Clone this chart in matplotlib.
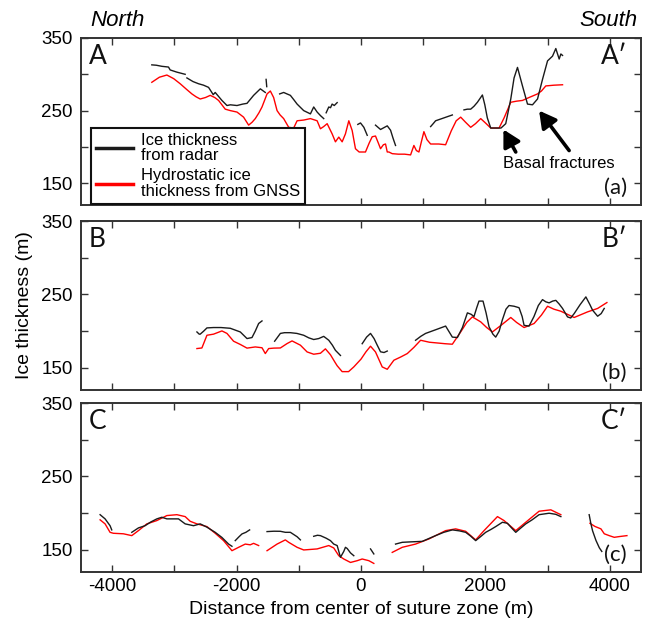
import matplotlib
matplotlib.use("Agg")
import matplotlib.pyplot as plt
from matplotlib.lines import Line2D
from matplotlib.ticker import MultipleLocator, FuncFormatter

plt.rcParams['font.family'] = ['Liberation Sans', 'DejaVu Sans']
plt.rcParams['axes.unicode_minus'] = False

# ---------------- data (distance m, thickness m) ----------------
# Panel A
a_radar_x = [
    [-3362, -3290, -3200, -3094, -3067, -2960, -2826],
    [-2798, -2700, -2611, -2530, -2450, -2375, -2343, -2235, -2154, -2100, -1993, -1900, -1832, -1726, -1618, -1538],
    [-1525, -1515],
    [-1307, -1243, -1190, -1135, -1080, -1027, -921, -813, -760, -705, -650, -599],
    [-560, -518, -490, -464, -430, -383],
    [-51, -8, 46, 100],
    [233, 314, 422, 475, 515, 555],
    [1119, 1160, 1199, 1300, 1400, 1468],
    [1655, 1710, 1763, 1816, 1871, 1951, 1990, 2030, 2085, 2160, 2250, 2326, 2407, 2460, 2515,
     2595, 2676, 2756, 2837, 2917, 2998, 3078, 3131, 3185, 3212, 3239],
]
a_radar_y = [
    [313, 312.5, 311, 310, 306, 303, 300],
    [295, 290, 287, 285, 282, 272, 275, 264, 257, 258, 257, 259, 260, 271, 280, 275],
    [293, 283],
    [273, 275, 273, 271, 265, 259, 250, 245.5, 255, 248, 243, 239],
    [247, 255, 254, 259, 257, 261],
    [231, 233, 227, 216],
    [230, 224, 229, 223, 212, 202],
    [228, 232, 236, 239, 242, 244],
    [251, 252, 252, 256, 261.5, 271.5, 258, 240, 226, 226, 226, 232, 266, 295, 309.5,
     284, 259, 258, 266, 293, 318.5, 325, 335.5, 321, 328, 326],
]
a_gnss_x = [[-3362, -3240, -3120, -3010, -2906, -2800, -2718, -2650, -2584, -2500, -2423, -2350,
             -2289, -2182, -2100, -1993, -1887, -1806, -1750, -1699, -1640, -1591, -1510, -1457,
             -1404, -1349, -1300, -1243, -1162, -1082, -1027, -920, -813, -705, -652, -600, -544,
             -464, -411, -357, -303, -250, -196, -142, -89, -30, 19, 72, 130, 180, 233, 280, 314,
             360, 394, 422, 448, 502, 600, 700, 797, 850, 890, 931, 970, 1011, 1060, 1119, 1250,
             1360, 1450, 1530, 1602, 1680, 1763, 1840, 1924, 2000, 2085, 2160, 2219, 2300, 2407,
             2500, 2595, 2700, 2837, 2900, 2970, 3100, 3239]]
a_gnss_y = [[289, 296, 299, 294, 287, 279, 273, 269, 266, 268, 271, 268,
             264, 252, 250, 248, 241, 230, 234, 239, 247, 255, 273, 277,
             268, 250, 244, 239, 227, 226, 236, 237, 239, 236, 225, 228, 232,
             218, 207, 213.5, 207, 218, 236, 222.6, 197.5, 193, 193, 193, 205, 214, 215, 205, 197.5,
             203, 204, 193, 193, 190.7, 190, 190, 189, 202, 195, 193, 207, 221, 210, 204, 204,
             203, 222, 236, 241, 234, 227, 232, 239, 233, 226, 226, 226, 240, 261.5,
             263, 264, 268, 273, 277, 284, 285, 285.6]]

# Panel B
b_radar_x = [
    [-2637, -2600, -2584, -2530, -2476, -2370, -2250, -2101, -1940, -1880, -1832, -1752, -1700, -1645, -1591],
    [-1388, -1296, -1230, -1135, -1030, -921, -840, -760, -680, -599, -518, -460, -411, -330],
    [19, 90, 153, 210, 261, 314, 370, 422],
    [877, 960, 1038, 1200, 1360, 1468, 1549, 1630, 1710, 1770, 1816, 1860, 1896, 1961, 2010, 2058,
     2120, 2165, 2220, 2270, 2330, 2379, 2460, 2540, 2590, 2621, 2701, 2780, 2850, 2917, 2970,
     3023, 3080, 3131, 3185, 3239, 3319, 3370, 3426, 3520, 3614, 3680, 3722, 3803, 3860, 3909],
]
b_radar_y = [
    [199, 196, 196, 200, 204.5, 205, 205, 204, 199, 194, 190, 191.4, 200, 210.5, 214],
    [186.4, 197, 198, 198, 197, 194.5, 191, 188.7, 190, 193, 187.7, 181, 174, 167],
    [183, 192, 197, 190, 181, 172, 171, 173],
    [187.7, 193, 197, 202, 207, 192, 191.4, 205, 225, 223, 220, 232, 241, 241, 225, 206,
     196, 192, 200, 215, 230, 235, 234, 232, 220, 208, 207, 220, 235, 243, 240,
     238.6, 241, 242, 237, 231, 219.5, 218, 224, 236, 246.7, 236, 228.6, 220.4, 224, 231],
]
b_gnss_x = [[-2637, -2557, -2476, -2370, -2235, -2154, -2048, -1940, -1832, -1699, -1591, -1538,
             -1484, -1400, -1296, -1188, -1108, -974, -866, -760, -652, -572, -491, -420, -383,
             -303, -200, -116, 0, 80, 153, 233, 341, 422, 528, 640, 744, 850, 958, 1100, 1227,
             1350, 1468, 1602, 1700, 1790, 1924, 2020, 2112, 2250, 2407, 2500, 2621, 2782, 2900,
             2998, 3100, 3212, 3426, 3641, 3803, 3952]]
b_gnss_y = [[176.4, 177.2, 194.5, 196, 200.4, 197, 186.4, 182, 177, 178.6, 177.5, 169.6,
             176.4, 177, 177.2, 183.2, 186.8, 181, 171.8, 168.7, 170, 176, 168, 158, 153,
             145, 145, 151.4, 162, 172, 179.6, 171.8, 151.4, 148.2, 160.5, 165, 169.6, 178, 187.7, 185, 184,
             183, 182.3, 199, 212, 219.5, 212.7, 205, 199, 208, 218.7, 212, 205, 210.5, 222,
             234, 230, 227.2, 218.7, 226.3, 231, 239]]

# Panel C
c_radar_x = [
    [-4193, -4113, -4033, -4006],
    [-3684, -3577, -3470, -3380, -3281, -3201, -3120, -2933, -2826, -2692, -2584, -2476, -2343, -2235, -2128, -2074],
    [-2021, -1960, -1913, -1850, -1790],
    [-1510, -1400, -1296, -1216, -1135, -1027, -974],
    [-760, -700, -652, -560, -491, -438, -383, -330, -277, -250, -222, -169, -116],
    [153, 206],
    [555, 663, 800, 985, 1199, 1330, 1468, 1580, 1682, 1760, 1843, 1920, 2004, 2090, 2165, 2273,
     2353, 2420, 2487, 2570, 2648, 2750, 2862, 3023, 3130, 3212],
    [3667, 3694, 3722, 3776, 3830, 3870],
]
c_radar_y = [
    [198, 192.3, 183, 177.3],
    [174, 180, 183, 188, 192.3, 194.5, 192.3, 192.3, 185.5, 183, 185.5, 181, 174, 167, 158, 155],
    [162.7, 168, 171.8, 174, 177.3],
    [175, 175.5, 175.4, 174, 174, 168, 163.7],
    [168.6, 170, 169.5, 166, 162.7, 158, 156, 140, 148, 153.6, 152, 146, 142.2],
    [151.4, 144.6],
    [158, 160.4, 161, 161.7, 169.5, 174, 177.3, 176, 174, 169, 162.7, 168, 174, 178, 181.8, 187.7,
     186.3, 180, 174, 180, 185.5, 191, 198, 200, 198.5, 195.4],
    [198, 186, 176, 163, 153, 148],
]
c_gnss_x = [
    [-4193, -4113, -4033, -3980, -3819, -3684, -3577, -3442, -3281, -3120, -2959, -2826, -2745,
     -2637, -2476, -2343, -2209, -2074, -1967, -1860, -1780, -1726, -1645],
    [-1510, -1349, -1216, -1162, -1027, -921, -705, -518, -438, -357, -277, -169, -61, 19, 126, 206],
    [502, 663, 877, 1092, 1360, 1521, 1682, 1843, 1977, 2193, 2299, 2487, 2648, 2862, 3051, 3212],
    [3680, 3760, 3856, 3910, 3989, 4070, 4150, 4274],
]
c_gnss_y = [
    [191, 185.5, 174, 172.7, 172, 169.5, 176.3, 185.5, 190, 196.8, 198, 195.4, 189,
     185.5, 181.8, 172.7, 162.7, 149, 153.6, 158, 157, 159, 156],
    [149, 158, 163.7, 160.4, 153.6, 150, 151.4, 156, 152.7, 142.2, 137.7, 133, 135.4, 137.7, 135.4, 131.7],
    [146.7, 153.6, 158, 165, 176.3, 178.7, 175.4, 163.7, 176.3, 195.4, 190, 176.3, 187.7, 202.7, 204.6, 198],
    [186.3, 182, 178.7, 172, 169.5, 167.2, 168.2, 169.5],
]

panel_letters = [("A", "A\u2032", "(a)"), ("B", "B\u2032", "(b)"), ("C", "C\u2032", "(c)")]
legend_labels = ["Ice thickness\nfrom radar", "Hydrostatic ice\nthickness from GNSS"]
x_label = "Distance from center of suture zone (m)"
y_label = "Ice thickness (m)"
annot_text = "Basal fractures"
arrow_tails = [(2487, 193), (3345, 195)]
arrow_heads = [(2289, 224), (2862, 250)]

# ---------------- figure ----------------
W, H = 653, 621
fig = plt.figure(figsize=(W / 100, H / 100), dpi=100)

RED = '#ff0000'
BLK = '#1a1a1a'
SPINE = '#333333'
letter_font = ['Lato', 'DejaVu Sans']

boxes = [(38, 205), (221, 390), (403, 572)]
panels = [(a_radar_x, a_radar_y, a_gnss_x, a_gnss_y),
          (b_radar_x, b_radar_y, b_gnss_x, b_gnss_y),
          (c_radar_x, c_radar_y, c_gnss_x, c_gnss_y)]

axes = []
for i, ((top, bot), (rx, ry, gx, gy)) in enumerate(zip(boxes, panels)):
    ax = fig.add_axes([81 / W, 1 - bot / H, 560 / W, (bot - top) / H])
    axes.append(ax)
    for xs, ys in zip(gx, gy):
        ax.plot(xs, ys, color=RED, lw=1.0, solid_joinstyle='round')
    for xs, ys in zip(rx, ry):
        ax.plot(xs, ys, color=BLK, lw=1.0, solid_joinstyle='round')
    ax.set_xlim(-4500, 4500)
    ax.set_ylim(120, 350)
    ax.xaxis.set_major_locator(MultipleLocator(1000))
    ax.yaxis.set_major_locator(MultipleLocator(50))
    ax.yaxis.set_major_formatter(FuncFormatter(
        lambda v, p: f"{int(round(v))}" if int(round(v)) in (150, 250, 350) else ""))
    if i == 2:
        ax.xaxis.set_major_formatter(FuncFormatter(
            lambda v, p: f"{int(round(v))}" if int(round(v)) % 2000 == 0 else ""))
    else:
        ax.xaxis.set_major_formatter(FuncFormatter(lambda v, p: ""))
    ax.tick_params(direction='in', length=5, width=1.0, color=SPINE,
                   top=True, right=True, labelsize=13.5, pad=6)
    ax.tick_params(axis='x', pad=4)
    for s in ax.spines.values():
        s.set_color(SPINE)
        s.set_linewidth(1.4)
    l, r, lab = panel_letters[i]
    ax.text(0.014, 0.965, l, transform=ax.transAxes, ha='left', va='top',
            fontsize=19, family=letter_font, color='#111111')
    ax.text(0.975, 0.965, r, transform=ax.transAxes, ha='right', va='top',
            fontsize=19, family=letter_font, color='#111111')
    ax.text(0.975, 0.045, lab, transform=ax.transAxes, ha='right', va='bottom',
            fontsize=16, family=letter_font, color='#111111')

axA = axes[0]
handles = [Line2D([], [], color=BLK, lw=2.5), Line2D([], [], color=RED, lw=2.5)]
leg = axA.legend(handles, legend_labels, loc='lower left', bbox_to_anchor=(0.018, 0.006),
                 borderaxespad=0, frameon=True, fancybox=False, framealpha=1,
                 edgecolor='#111111', fontsize=12, handlelength=2.2, handletextpad=0.5,
                 borderpad=0.3, labelspacing=0.3)
leg.get_frame().set_linewidth(1.5)
for t in leg.get_texts():
    t.set_linespacing(1.05)

axA.text(3185, 177, annot_text, ha='center', va='center', fontsize=12)
for (tx, ty), (hx, hy) in zip(arrow_tails, arrow_heads):
    axA.annotate("", xy=(hx, hy), xytext=(tx, ty),
                 arrowprops=dict(arrowstyle='-|>,head_length=1.0,head_width=0.55',
                                 color='black', lw=2.6, shrinkA=0, shrinkB=0))

axes[2].set_xlabel(x_label, fontsize=14, labelpad=5)
fig.text(0.037, 0.509, y_label, rotation=90, ha='center', va='center', fontsize=14)
fig.text(90.7 / W, 1 - 21 / H, "North", style='italic', ha='left', va='center', fontsize=16)
fig.text(637 / W, 1 - 21 / H, "South", style='italic', ha='right', va='center', fontsize=16)

fig.savefig("out.png", dpi=100)
